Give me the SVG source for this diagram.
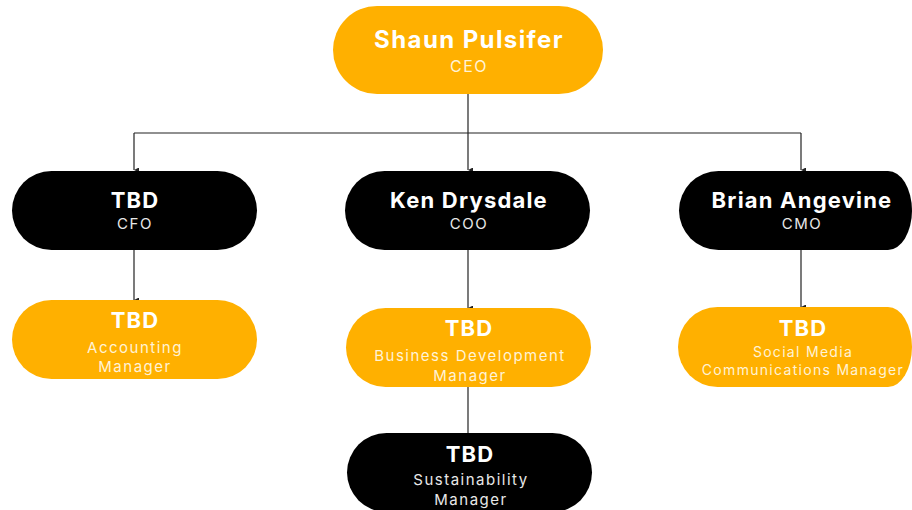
<svg xmlns="http://www.w3.org/2000/svg" width="912" height="510" viewBox="0 0 912 510">
<defs>
<style>
.y{fill:#FFB000}
.k{fill:#000000}
.n{font-family:Inter,"Liberation Sans",sans-serif;font-weight:700;fill:#FFFFFF;text-anchor:middle;font-size:22px;letter-spacing:1.2px}
.t{font-family:Inter,"Liberation Sans",sans-serif;font-weight:400;fill:#FFFFFF;text-anchor:middle;font-size:15px;letter-spacing:1.5px}
.s{font-size:14px;letter-spacing:1.3px}
.ty{fill:#FFF3D6}
.tk{fill:#E8E8E8}
.c{fill:none;stroke:#222222;stroke-width:1.2}
</style>
<marker id="a" viewBox="0 0 8 8" refX="4" refY="8" markerWidth="5" markerHeight="5" orient="auto-start-reverse" markerUnits="userSpaceOnUse">
<path d="M0,0 L8,0 L4,8 Z" fill="#222222"/>
</marker>
</defs>
<rect width="912" height="510" fill="#FFFFFF"/>
<g id="connectors">
<path class="c" d="M468,94 V133"/>
<path class="c" d="M134,133 H801"/>
<path class="c" d="M134,133 V170" marker-end="url(#a)"/>
<path class="c" d="M468,133 V170" marker-end="url(#a)"/>
<path class="c" d="M801,133 V170" marker-end="url(#a)"/>
<path class="c" d="M134,250 V300" marker-end="url(#a)"/>
<path class="c" d="M468,250 V308" marker-end="url(#a)"/>
<path class="c" d="M801,250 V307" marker-end="url(#a)"/>
<path class="c" d="M468,387 V433"/>
</g>
<g id="ceo">
<rect class="y" x="333" y="6" width="270" height="88" rx="44"/>
<text class="n" x="469" y="48" style="font-size:24px;letter-spacing:1.4px">Shaun Pulsifer</text>
<text class="t ty" x="469" y="72" style="font-size:16px">CEO</text>
</g>
<g id="cfo">
<rect class="k" x="12" y="171" width="245" height="79" rx="39.5"/>
<text class="n" x="135" y="208">TBD</text>
<text class="t tk" x="135" y="229">CFO</text>
</g>
<g id="coo">
<rect class="k" x="345" y="171" width="245" height="79" rx="39.5"/>
<text class="n" x="469" y="208">Ken Drysdale</text>
<text class="t tk" x="469" y="229">COO</text>
</g>
<g id="cmo">
<path class="k" d="M718.5,171 H888 A24,39.5 0 0 1 888,250 H718.5 A39.5,39.5 0 0 1 718.5,171 Z"/>
<text class="n" x="802" y="208">Brian Angevine</text>
<text class="t tk" x="802" y="229">CMO</text>
</g>
<g id="accounting">
<rect class="y" x="12" y="300" width="245" height="79" rx="39.5"/>
<text class="n" x="135" y="328">TBD</text>
<text class="t ty" x="135" y="353">Accounting</text>
<text class="t ty" x="135" y="372">Manager</text>
</g>
<g id="bizdev">
<rect class="y" x="346" y="308" width="245" height="79" rx="39.5"/>
<text class="n" x="469" y="336">TBD</text>
<text class="t ty" x="470" y="361">Business Development</text>
<text class="t ty" x="470" y="381">Manager</text>
</g>
<g id="sustainability">
<rect class="k" x="347" y="433" width="245" height="79" rx="39.5"/>
<text class="n" x="470" y="462">TBD</text>
<text class="t tk" x="471" y="485">Sustainability</text>
<text class="t tk" x="471" y="505">Manager</text>
</g>
<g id="social">
<path class="y" d="M717.5,307 H888 A24,40 0 0 1 888,387 H717.5 A39.5,40 0 0 1 717.5,307 Z"/>
<text class="n" x="803" y="336">TBD</text>
<text class="t ty s" x="803" y="357">Social Media</text>
<text class="t ty s" x="803" y="375">Communications Manager</text>
</g>
</svg>
